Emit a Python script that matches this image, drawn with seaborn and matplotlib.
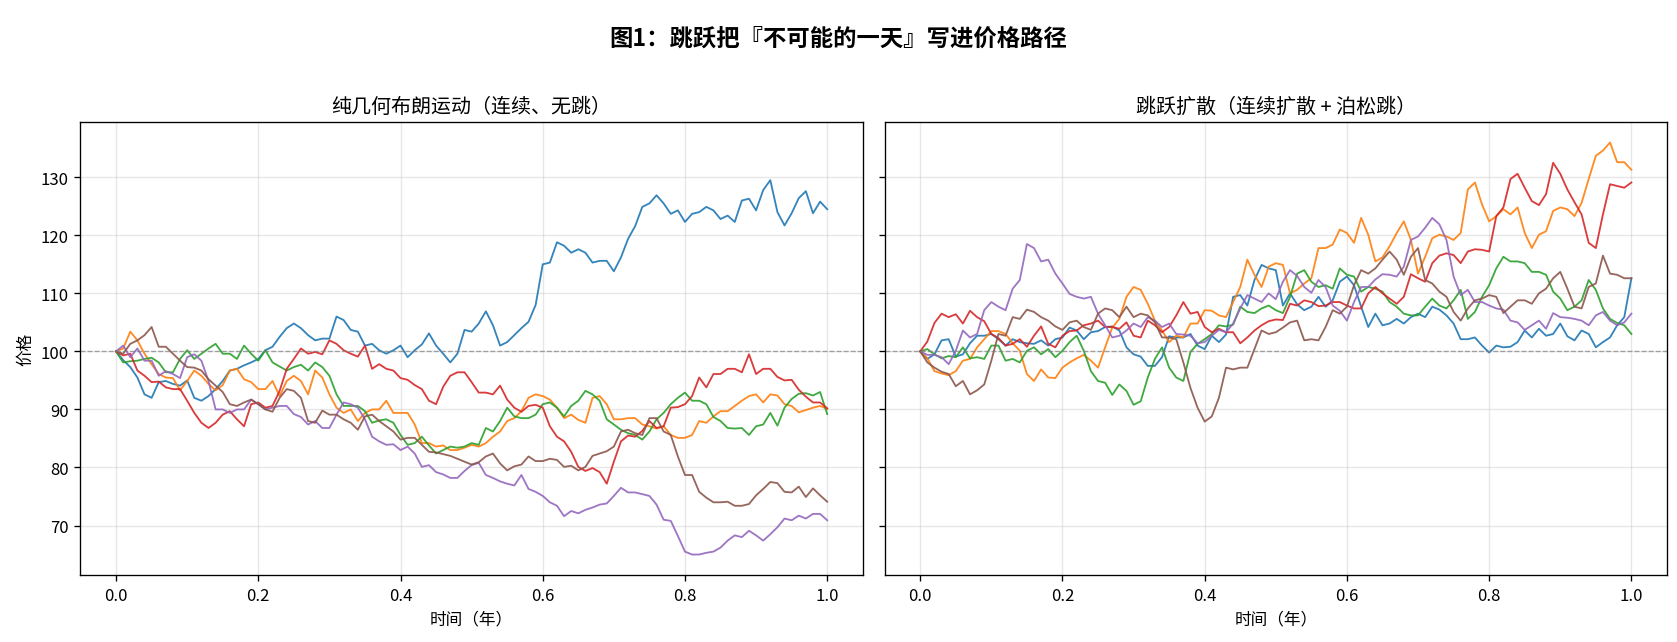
import numpy as np
import pandas as pd
import matplotlib.pyplot as plt
import seaborn as sns

plt.rcParams['font.family'] = ['Noto Sans CJK SC', 'DejaVu Sans']
plt.rcParams['axes.unicode_minus'] = False

# 时间网格（年），步长 0.01
t = np.round(np.arange(101) * 0.01, 2)

# 左图：纯几何布朗运动（每行 10 个点）
gbm_1 = [100, 98.5, 97.3, 95.5, 92.6, 92.0, 94.7, 94.9, 94.4, 94.1,
         95.0, 92.0, 91.5, 92.3, 93.5, 94.9, 96.7, 97.0, 97.6, 98.1,
         98.7, 100.2, 100.8, 102.5, 104.0, 104.8, 104.0, 102.8, 101.9, 102.2,
         102.2, 106.0, 105.4, 103.7, 103.4, 101.0, 101.3, 100.2, 99.6, 100.2,
         101.0, 99.0, 100.2, 101.2, 103.1, 101.0, 99.6, 98.1, 99.6, 103.7,
         103.4, 104.8, 106.9, 104.5, 101.0, 101.6, 102.8, 104.0, 105.1, 108.0,
         115.0, 115.3, 118.8, 118.2, 117.0, 117.6, 117.0, 115.3, 115.6, 115.6,
         113.8, 116.2, 119.4, 121.6, 124.9, 125.5, 126.9, 125.5, 123.7, 124.3,
         122.3, 123.7, 124.0, 124.9, 124.3, 122.8, 123.4, 122.3, 126.0, 126.3,
         124.3, 127.8, 129.5, 124.0, 121.7, 123.8, 126.4, 127.6, 123.8, 125.8,
         124.5]
gbm_2 = [100, 100.5, 103.4, 101.9, 99.6, 97.8, 96.1, 95.5, 95.4, 93.3,
         94.9, 96.7, 95.8, 94.4, 93.3, 94.2, 96.7, 97.0, 95.2, 94.7,
         93.5, 93.5, 94.9, 92.3, 94.9, 95.8, 94.9, 92.6, 96.7, 95.5,
         92.6, 90.3, 89.4, 90.0, 88.0, 89.4, 90.0, 90.0, 91.5, 89.4,
         89.4, 89.4, 87.4, 84.2, 84.2, 83.6, 83.8, 83.0, 83.0, 83.4,
         83.9, 83.6, 84.2, 85.3, 86.2, 88.0, 88.5, 89.7, 92.0, 92.6,
         92.3, 91.7, 90.3, 88.5, 89.1, 88.2, 87.7, 92.0, 92.3, 90.9,
         88.3, 88.3, 88.5, 88.5, 87.4, 87.1, 86.7, 87.1, 85.6, 85.1,
         85.1, 85.6, 88.0, 87.7, 88.8, 89.7, 89.7, 90.6, 91.5, 92.3,
         92.6, 91.2, 92.6, 92.4, 90.9, 90.6, 89.5, 89.9, 90.3, 90.6,
         90.1]
gbm_3 = [100, 98.1, 98.3, 98.4, 98.7, 98.9, 98.1, 96.4, 96.4, 98.7,
         100.2, 98.7, 99.6, 100.5, 101.3, 99.6, 99.6, 98.7, 101.0, 99.6,
         98.4, 100.2, 98.1, 97.4, 96.7, 97.3, 97.7, 96.7, 98.1, 97.3,
         95.8, 92.6, 90.6, 90.6, 90.6, 89.7, 87.7, 88.1, 88.3, 87.7,
         85.6, 83.9, 84.2, 85.3, 83.8, 82.4, 83.0, 83.6, 83.4, 83.6,
         84.2, 83.9, 86.8, 86.2, 88.0, 90.3, 88.8, 88.5, 88.5, 89.1,
         90.9, 91.2, 90.3, 88.8, 90.6, 91.5, 93.2, 92.6, 91.5, 88.3,
         87.4, 86.5, 85.9, 85.6, 84.8, 86.2, 88.3, 89.4, 90.9, 92.0,
         92.9, 91.5, 91.5, 90.9, 88.7, 88.0, 86.8, 86.7, 86.8, 85.6,
         87.1, 87.4, 89.4, 87.2, 90.3, 91.8, 92.7, 92.8, 92.4, 93.0,
         89.2]
gbm_4 = [100, 99.3, 99.6, 96.7, 95.8, 94.7, 94.8, 93.8, 93.5, 93.5,
         91.5, 89.4, 87.7, 86.8, 87.7, 89.1, 89.7, 88.3, 87.1, 90.9,
         91.2, 90.3, 90.6, 93.2, 97.0, 98.7, 100.5, 99.6, 99.9, 99.5,
         101.9, 101.3, 100.2, 99.6, 99.1, 101.0, 97.0, 97.8, 97.0, 96.7,
         95.4, 95.1, 94.2, 93.5, 91.5, 90.9, 93.9, 95.8, 96.4, 96.4,
         94.7, 92.9, 92.9, 92.6, 94.1, 91.7, 90.3, 89.6, 90.6, 90.8,
         90.3, 87.1, 85.3, 84.5, 82.7, 80.1, 79.4, 79.9, 79.2, 77.2,
         81.0, 84.5, 85.5, 85.3, 86.3, 88.0, 86.8, 87.1, 90.3, 90.4,
         90.9, 92.3, 95.5, 93.8, 96.1, 96.1, 97.0, 97.0, 96.4, 99.5,
         96.1, 97.0, 97.0, 95.6, 95.0, 95.1, 93.4, 92.2, 91.2, 91.2,
         90.2]
gbm_5 = [100, 101.0, 99.0, 100.5, 98.4, 98.4, 95.8, 96.6, 96.1, 95.4,
         99.0, 99.5, 98.4, 94.9, 90.0, 90.0, 89.4, 90.0, 90.0, 91.7,
         90.9, 90.0, 90.3, 90.6, 90.6, 89.2, 88.7, 87.4, 88.0, 86.8,
         86.8, 89.1, 91.2, 90.9, 90.3, 88.3, 85.3, 84.5, 83.9, 84.0,
         83.0, 83.6, 82.4, 80.1, 80.4, 79.2, 78.8, 78.2, 78.2, 79.4,
         80.4, 80.8, 78.7, 78.2, 77.6, 77.2, 76.9, 78.7, 76.3, 75.8,
         75.1, 74.0, 73.4, 71.6, 72.5, 72.1, 72.7, 73.1, 73.6, 73.8,
         75.1, 76.5, 75.7, 75.7, 75.4, 75.1, 73.6, 71.0, 70.8, 68.2,
         65.5, 65.0, 65.0, 65.3, 65.5, 66.2, 67.4, 68.3, 68.0, 69.1,
         68.3, 67.4, 68.5, 69.7, 71.2, 70.9, 71.7, 71.2, 72.0, 72.0,
         70.9]
gbm_6 = [100, 99.6, 101.3, 101.9, 102.8, 104.2, 100.8, 100.8, 99.6, 98.4,
         97.3, 97.2, 96.7, 95.2, 94.1, 93.0, 90.9, 90.6, 91.2, 91.7,
         90.9, 90.0, 89.6, 92.0, 93.5, 93.2, 92.0, 88.0, 87.7, 89.8,
         89.1, 89.1, 88.3, 87.7, 86.5, 88.8, 89.1, 88.0, 87.1, 86.2,
         84.8, 85.1, 85.1, 83.9, 82.7, 82.6, 82.3, 82.0, 81.5, 81.0,
         80.5, 80.9, 81.9, 82.4, 80.7, 79.5, 80.2, 80.5, 81.9, 81.1,
         81.1, 81.5, 81.3, 80.1, 80.3, 79.5, 80.1, 82.0, 82.4, 82.8,
         83.6, 86.2, 86.5, 85.9, 85.6, 88.5, 88.5, 86.2, 85.6, 81.9,
         78.7, 78.7, 75.8, 74.8, 74.0, 74.0, 74.1, 73.4, 73.4, 73.7,
         75.2, 76.3, 77.5, 77.3, 75.8, 75.7, 76.7, 74.9, 76.4, 75.2,
         74.1]

# 右图：跳跃扩散（每行 10 个点）
jump_1 = [100, 98.7, 99.5, 101.9, 102.1, 99.1, 99.5, 101.4, 102.7, 102.7,
          103.0, 102.1, 101.0, 102.1, 101.6, 101.4, 101.3, 101.9, 101.0, 102.1,
          102.4, 104.1, 103.6, 102.1, 103.3, 103.5, 104.2, 104.3, 103.6, 100.7,
          99.5, 99.1, 97.5, 97.5, 99.0, 102.6, 102.4, 102.4, 103.0, 101.0,
          100.4, 102.7, 101.6, 102.9, 109.4, 109.7, 107.9, 112.3, 114.9, 114.3,
          114.0, 107.9, 110.0, 108.1, 107.1, 107.7, 109.4, 107.7, 108.8, 112.0,
          112.9, 111.4, 107.7, 104.2, 106.5, 104.5, 104.8, 105.6, 104.8, 105.9,
          106.5, 105.9, 107.7, 107.2, 106.2, 104.8, 102.1, 102.1, 102.4, 101.0,
          99.8, 101.0, 100.7, 100.8, 101.6, 103.6, 102.4, 103.9, 102.7, 103.0,
          104.8, 102.6, 101.9, 103.6, 103.0, 100.7, 101.6, 102.4, 104.5, 105.9,
          112.6]
jump_2 = [100, 98.8, 96.6, 96.2, 95.9, 96.6, 98.4, 98.7, 100.7, 102.1,
          103.5, 103.5, 103.0, 101.4, 100.1, 96.1, 94.9, 96.9, 95.5, 95.4,
          97.2, 98.1, 98.8, 99.4, 98.4, 97.2, 100.7, 104.1, 105.6, 109.4,
          111.1, 110.6, 108.2, 105.3, 103.6, 101.6, 102.7, 102.4, 104.8, 104.8,
          107.1, 107.0, 106.2, 105.9, 108.5, 111.1, 115.8, 113.2, 111.1, 114.6,
          115.2, 114.9, 110.0, 110.6, 111.7, 112.6, 117.8, 117.8, 118.4, 121.0,
          120.4, 118.7, 123.0, 120.1, 115.5, 116.2, 118.1, 120.4, 122.4, 119.2,
          113.4, 116.3, 119.5, 120.1, 119.8, 119.2, 120.4, 127.9, 129.1, 125.3,
          122.4, 123.3, 124.5, 123.6, 124.8, 120.4, 117.8, 120.1, 120.7, 124.2,
          124.8, 124.5, 123.3, 125.6, 129.7, 133.7, 134.6, 136.0, 132.6, 132.6,
          131.3]
jump_3 = [100, 100.4, 99.5, 98.8, 99.2, 99.0, 100.7, 98.8, 99.0, 98.7,
          101.0, 101.0, 98.4, 98.7, 98.1, 100.1, 100.7, 99.5, 100.4, 99.0,
          100.1, 101.6, 102.7, 100.1, 96.6, 94.9, 94.6, 92.5, 94.3, 93.2,
          90.8, 91.4, 95.5, 98.7, 100.7, 97.2, 95.5, 94.9, 99.9, 101.3,
          102.1, 103.0, 104.5, 104.3, 104.6, 107.7, 106.8, 106.6, 107.4, 107.9,
          107.1, 106.6, 109.4, 113.4, 114.0, 112.0, 111.1, 111.4, 110.8, 114.3,
          113.2, 112.9, 110.3, 111.1, 110.8, 110.3, 108.5, 107.7, 106.5, 106.2,
          106.2, 107.7, 109.1, 107.9, 107.4, 108.8, 110.6, 105.6, 106.8, 109.4,
          111.4, 114.3, 116.3, 115.5, 115.5, 115.2, 113.7, 113.7, 113.2, 110.3,
          109.1, 107.1, 107.7, 108.8, 112.3, 110.6, 107.4, 105.6, 104.9, 104.5,
          103.0]
jump_4 = [100, 101.7, 104.9, 106.5, 105.9, 106.4, 104.8, 107.0, 105.9, 105.2,
          103.0, 102.3, 101.0, 101.3, 102.1, 100.8, 102.7, 104.3, 101.3, 100.7,
          102.7, 103.5, 103.6, 104.5, 104.8, 105.3, 104.2, 104.2, 103.9, 105.0,
          102.7, 102.4, 105.3, 104.5, 103.3, 104.2, 106.2, 108.5, 106.5, 106.8,
          104.2, 103.3, 103.9, 103.3, 103.3, 101.4, 102.4, 103.6, 104.5, 105.2,
          105.5, 105.4, 108.2, 107.9, 108.8, 108.5, 107.8, 107.9, 108.5, 108.5,
          107.9, 107.4, 107.4, 110.0, 111.1, 110.0, 109.1, 108.2, 109.4, 113.3,
          112.6, 112.0, 115.2, 116.5, 116.9, 116.6, 115.2, 117.2, 117.6, 117.5,
          117.2, 123.3, 124.8, 129.7, 130.6, 128.2, 125.9, 125.2, 127.1, 132.5,
          130.6, 127.9, 125.7, 123.6, 118.7, 117.8, 123.6, 128.8, 128.5, 128.2,
          129.1]
jump_5 = [100, 99.4, 99.4, 99.0, 97.8, 100.1, 103.6, 102.4, 103.0, 107.1,
          108.5, 107.7, 107.1, 110.8, 112.3, 118.5, 117.8, 115.5, 115.8, 113.4,
          111.7, 109.9, 109.4, 109.1, 109.4, 106.5, 104.5, 102.4, 102.7, 103.6,
          104.8, 104.2, 105.9, 105.3, 104.2, 104.8, 103.0, 102.9, 102.7, 101.4,
          101.6, 102.7, 103.7, 103.3, 104.8, 107.4, 109.7, 109.1, 108.5, 110.0,
          109.0, 112.0, 114.0, 113.0, 111.1, 110.1, 112.3, 111.1, 107.9, 107.0,
          105.3, 108.5, 111.1, 111.1, 112.4, 113.3, 113.2, 112.9, 114.6, 119.2,
          119.8, 121.3, 123.0, 121.9, 119.2, 112.9, 109.7, 110.6, 108.5, 108.5,
          107.9, 107.4, 107.2, 105.3, 105.0, 103.7, 104.5, 105.3, 103.9, 106.6,
          105.9, 105.8, 105.6, 105.3, 104.5, 106.2, 106.8, 105.3, 104.5, 105.0,
          106.5]
jump_6 = [100, 98.1, 97.2, 96.5, 96.1, 94.0, 94.9, 92.6, 93.3, 94.3,
          98.4, 103.0, 102.7, 105.9, 105.6, 107.2, 106.8, 105.9, 105.3, 104.3,
          103.7, 105.0, 105.3, 104.2, 103.7, 106.5, 107.4, 107.1, 105.9, 107.7,
          105.9, 106.5, 106.2, 105.0, 102.4, 102.4, 102.1, 98.1, 93.7, 90.3,
          87.9, 88.8, 92.0, 97.2, 96.9, 97.2, 97.2, 100.4, 103.6, 103.0,
          103.3, 104.1, 105.0, 105.3, 101.9, 102.1, 101.9, 104.2, 107.1, 106.5,
          107.7, 111.4, 114.0, 113.4, 114.3, 115.8, 117.2, 115.8, 113.2, 116.3,
          117.8, 112.3, 111.7, 110.3, 109.4, 106.8, 105.3, 107.4, 108.8, 109.1,
          109.7, 109.4, 106.6, 107.7, 108.8, 108.8, 108.2, 110.0, 110.8, 112.6,
          113.7, 110.8, 107.7, 107.4, 111.1, 111.7, 116.5, 113.4, 113.2, 112.6,
          112.6]

gbm_list = [gbm_1, gbm_2, gbm_3, gbm_4, gbm_5, gbm_6]
jump_list = [jump_1, jump_2, jump_3, jump_4, jump_5, jump_6]


def to_long(paths):
    frames = []
    for i, p in enumerate(paths):
        frames.append(pd.DataFrame({'t': t, 'price': p, 'path': i}))
    return pd.concat(frames, ignore_index=True)


df_gbm = to_long(gbm_list)
df_jump = to_long(jump_list)

colors = sns.color_palette('tab10', 6)

fig, axes = plt.subplots(1, 2, figsize=(13.975, 5.358), dpi=120, sharey=True)
fig.subplots_adjust(left=0.048, right=0.994, top=0.809, bottom=0.104, wspace=0.028)

titles = ['纯几何布朗运动（连续、无跳）', '跳跃扩散（连续扩散 + 泊松跳）']
for ax, df, title in zip(axes, [df_gbm, df_jump], titles):
    sns.lineplot(data=df, x='t', y='price', hue='path', palette=colors,
                 estimator=None, linewidth=1.1, alpha=0.9, legend=False, ax=ax)
    ax.axhline(100, color='gray', linestyle='--', linewidth=0.8, alpha=0.7)
    ax.grid(alpha=0.3)
    ax.set_title(title, fontsize=12)
    ax.set_xlabel('时间（年）', fontsize=10)

axes[0].set_ylabel('价格', fontsize=10)
axes[1].set_ylabel('')

fig.suptitle('图1：跳跃把『不可能的一天』写进价格路径', fontsize=14, fontweight='bold', y=0.958)

fig.savefig('out.png', dpi=120)
